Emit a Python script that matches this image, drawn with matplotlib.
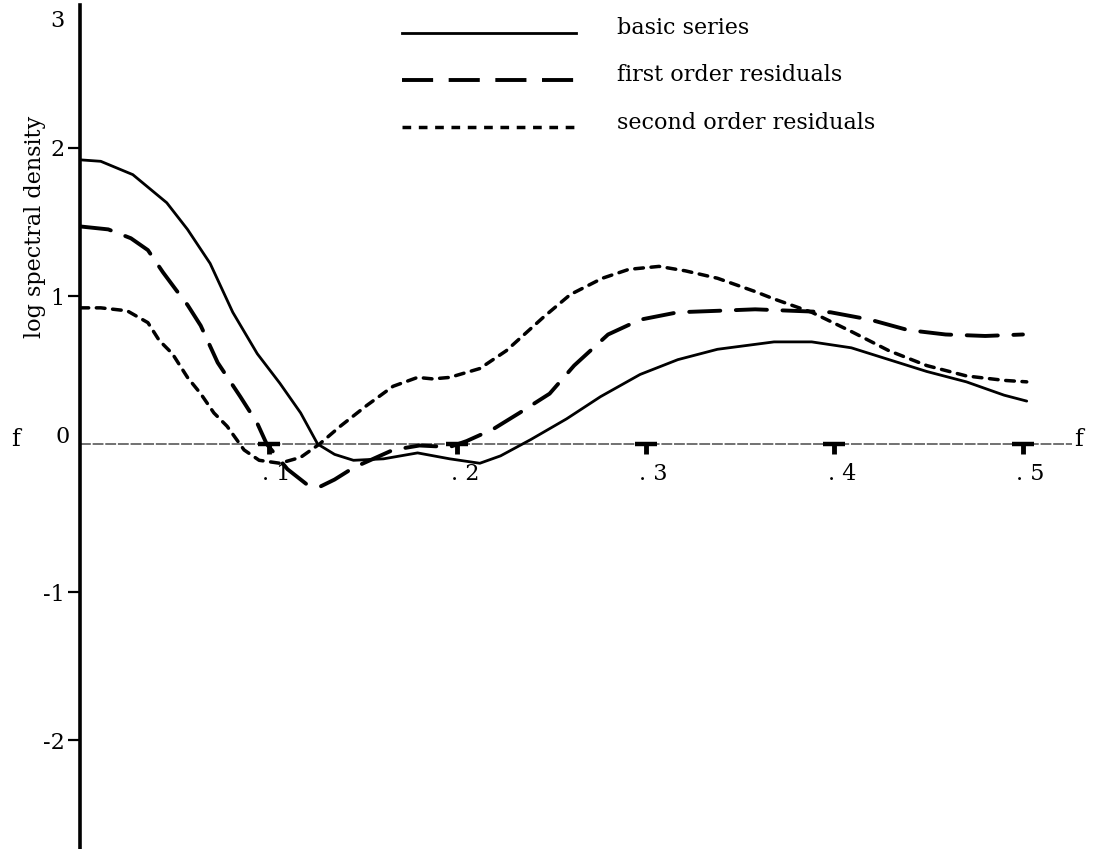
import matplotlib.pyplot as plt

# values (f = frequency, log spectral density)
basic_f = [0, .011, .028, .046, .057, .069, .081, .094, .106, .117, .126, .135, .145, .161,
           .179, .196, .212, .223, .239, .258, .276, .297, .317, .338, .368, .388, .409,
           .429, .449, .47, .49, .502]
basic_v = [1.92, 1.91, 1.82, 1.63, 1.45, 1.22, .89, .61, .41, .21, 0.0, -.07, -.11, -.10,
           -.06, -.10, -.13, -.08, .03, .17, .32, .47, .57, .64, .69, .69, .65,
           .57, .49, .42, .33, .29]

first_f = [0, .015, .027, .036, .044, .051, .057, .064, .073, .085, .094, .099, .11, .12,
           .127, .135, .145, .166, .18, .196, .205, .219, .233, .249, .262, .28, .297,
           .317, .338, .358, .378, .398, .419, .439, .459, .48, .50]
first_v = [1.47, 1.45, 1.39, 1.31, 1.16, 1.04, .94, .80, .55, .32, .14, 0.0, -.17, -.27,
           -.29, -.24, -.16, -.04, -.01, -.02, .02, .1, .21, .34, .53, .74, .84,
           .89, .90, .91, .90, .89, .84, .77, .74, .73, .74]

second_f = [0, .011, .025, .036, .042, .049, .057, .064, .071, .078, .087, .095, .106, .117,
            .127, .138, .152, .166, .179, .187, .196, .212, .226, .246, .26, .277, .291,
            .307, .321, .338, .358, .368, .388, .409, .429, .449, .47, .49, .502]
second_v = [.92, .92, .90, .82, .70, .61, .45, .34, .21, .12, -.04, -.11, -.13, -.09,
            0, .12, .26, .39, .45, .44, .45, .51, .63, .86, 1.01, 1.12, 1.18,
            1.20, 1.17, 1.12, 1.03, .98, .89, .76, .63, .53, .46, .43, .42]

x_ticks = [.1, .2, .3, .4, .5]
x_labels = [". 1", ". 2", ". 3", ". 4", ". 5"]
y_ticks = [2, 1, -1, -2]
y_labels = ["2", "1", "-1", "-2"]
legend_labels = ["basic series", "first order residuals", "second order residuals"]

plt.rcParams["font.family"] = "DejaVu Serif"
FS = 16

fig = plt.figure(figsize=(11.07, 8.49), dpi=100)
ax = fig.add_axes([80 / 1107, 0, 992 / 1107, 844 / 849])
ax.set_xlim(0, 0.526)
ax.set_ylim(-2.736, 2.966)

for s in ["top", "right", "bottom"]:
    ax.spines[s].set_visible(False)
ax.spines["left"].set_linewidth(2.6)
ax.spines["left"].set_color("black")

ax.set_yticks(y_ticks)
ax.set_yticklabels(y_labels, fontsize=FS)
ax.tick_params(axis="y", direction="out", length=9, width=1.6, pad=2)
ax.set_xticks([])

# zero line acting as the f axis
ax.axhline(0, color="#666666", lw=1.3, ls=(0, (6, 1)), zorder=1)
ax.vlines(x_ticks, -0.07, 0, color="black", lw=3.5)
ax.plot(x_ticks, [0] * len(x_ticks), ls="none", marker="_", ms=16, mew=3.2, color="black")
for xt, lab in zip(x_ticks, x_labels):
    ax.text(xt + 0.004, -0.2, lab, fontsize=FS, ha="center", va="center")

ax.text(0.527, 0.03, "f", fontsize=FS + 1, ha="left", va="center", clip_on=False)
ax.text(-0.034, 0.03, "f", fontsize=FS + 1, ha="center", va="center", clip_on=False)
ax.text(-0.009, 0.05, "0", fontsize=FS, ha="center", va="center", clip_on=False)
ax.text(-0.012, 2.86, "3", fontsize=FS, ha="center", va="center", clip_on=False)
ax.text(-0.024, 1.47, "log spectral density", fontsize=FS, rotation=90,
        ha="center", va="center", clip_on=False)

styles = [dict(ls="-", lw=2.0),
          dict(ls=(0, (8, 4)), lw=2.8),
          dict(ls=(0, (2.5, 2.2)), lw=2.5)]
series = [(basic_f, basic_v), (first_f, first_v), (second_f, second_v)]
for (fx, fy), st in zip(series, styles):
    ax.plot(fx, fy, color="black", solid_capstyle="round", dash_capstyle="round", **st)

# hand drawn legend at the top
legend_y = [2.78, 2.46, 2.14]
for (fx, fy), st, lab, ly in zip(series, styles, legend_labels, legend_y):
    ax.plot([0.171, 0.263], [ly, ly], color="black", **st)
    ax.text(0.285, ly + 0.03, lab, fontsize=FS, ha="left", va="center")

fig.savefig("out.png", dpi=100)
